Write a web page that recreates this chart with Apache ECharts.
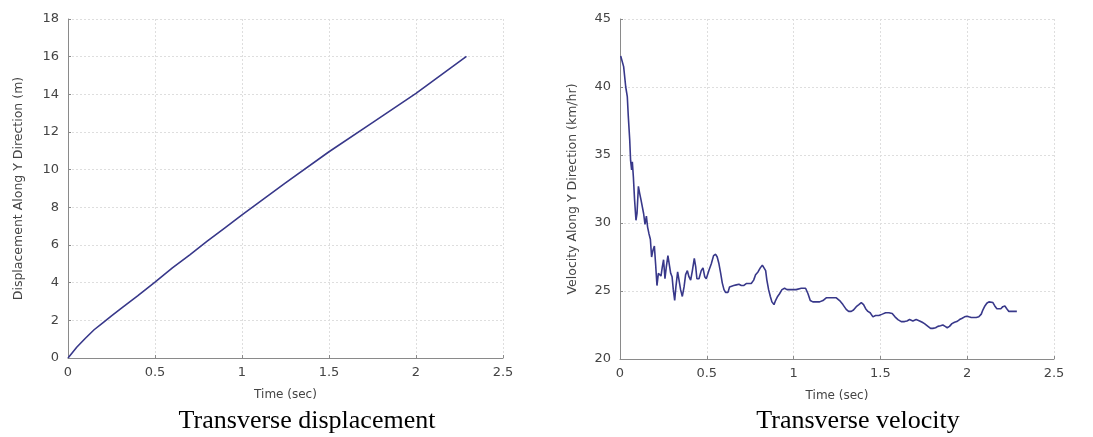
<!DOCTYPE html>
<html>
<head>
<meta charset="utf-8">
<script src="https://cdn.jsdelivr.net/npm/echarts@6/dist/echarts.min.js"></script>
<style>
html,body{margin:0;padding:0;background:#fff;}
#c{width:1093px;height:437px;}
</style>
</head>
<body>
<div id="c"></div>
<script>
// Displacement (m) vs time (sec)
const dispTime = [0, 0.02, 0.05, 0.1, 0.15, 0.2, 0.25, 0.3, 0.4, 0.5, 0.6, 0.7, 0.8, 0.9, 1.0, 1.25, 1.5, 1.75, 2.0, 2.29];
const dispValues = [0, 0.23, 0.57, 1.05, 1.5, 1.87, 2.24, 2.6, 3.3, 4.03, 4.78, 5.48, 6.2, 6.9, 7.6, 9.3, 10.95, 12.5, 14.05, 16.02];

// Velocity (km/hr) vs time (sec)
const velTime = [0.004,0.013,0.021,0.033,0.042,0.048,0.056,0.061,0.067,0.071,0.077,0.084,0.092,0.098,0.106,0.113,0.121,0.129,0.136,0.144,0.152,0.159,0.167,0.175,0.182,0.19,0.198,0.205,0.213,0.221,0.228,0.236,0.244,0.251,0.259,0.267,0.276,0.284,0.292,0.3,0.307,0.315,0.322,0.332,0.34,0.349,0.359,0.369,0.378,0.388,0.397,0.407,0.417,0.428,0.436,0.443,0.455,0.468,0.478,0.488,0.497,0.512,0.526,0.539,0.551,0.56,0.57,0.58,0.589,0.599,0.608,0.622,0.631,0.641,0.655,0.67,0.685,0.699,0.712,0.727,0.743,0.756,0.77,0.781,0.795,0.808,0.82,0.829,0.839,0.846,0.856,0.866,0.875,0.887,0.896,0.908,0.919,0.933,0.948,0.962,0.977,0.996,1.015,1.044,1.069,1.083,1.096,1.111,1.131,1.15,1.169,1.188,1.207,1.226,1.246,1.265,1.284,1.303,1.317,1.332,1.345,1.361,1.376,1.39,1.403,1.415,1.428,1.441,1.457,1.472,1.491,1.511,1.53,1.549,1.568,1.584,1.601,1.62,1.639,1.653,1.668,1.687,1.706,1.726,1.741,1.754,1.774,1.789,1.802,1.818,1.831,1.846,1.86,1.873,1.885,1.898,1.912,1.927,1.94,1.956,1.971,1.985,1.998,2.01,2.023,2.036,2.052,2.067,2.081,2.09,2.102,2.113,2.125,2.136,2.148,2.159,2.171,2.182,2.194,2.205,2.217,2.228,2.24,2.251,2.263,2.274,2.286];
const velValues = [42.28,42.2,41.5,40.0,39.3,37.8,36.1,34.6,33.9,34.5,33.4,31.7,30.2,30.7,32.7,32.2,31.7,31.6,30.7,29.9,30.5,29.7,29.2,28.8,27.5,28.0,28.3,27.0,25.4,26.3,26.2,26.1,26.8,27.3,25.9,26.8,27.6,27.6,26.3,26.05,25.1,24.3,25.3,26.4,25.8,25.1,24.6,25.3,26.2,26.5,26.05,25.8,26.5,27.4,26.8,25.9,25.9,26.5,26.7,26.05,25.9,26.5,27.0,27.6,27.7,27.5,27.0,26.3,25.6,25.1,24.9,24.9,25.3,25.4,25.4,25.45,25.5,25.4,25.4,25.55,25.55,25.55,25.8,26.2,26.4,26.7,26.9,26.8,26.5,25.8,25.1,24.6,24.2,24.0,24.3,24.6,24.8,25.1,25.2,25.1,25.1,25.1,25.1,25.2,25.2,24.8,24.3,24.2,24.2,24.2,24.3,24.5,24.5,24.5,24.5,24.3,24.0,23.65,23.5,23.5,23.6,23.85,24.0,24.15,24.0,23.7,23.5,23.4,23.1,23.2,23.2,23.3,23.4,23.4,23.35,23.1,22.9,22.75,22.75,22.8,22.9,22.8,22.9,22.8,22.7,22.6,22.4,22.25,22.25,22.3,22.4,22.45,22.5,22.4,22.3,22.4,22.6,22.7,22.75,22.9,23.0,23.1,23.15,23.1,23.05,23.05,23.05,23.1,23.3,23.6,23.9,24.1,24.2,24.3,24.15,23.9,23.7,23.8,23.7,23.85,23.9,23.7,23.5,23.55,23.5,23.55,23.5];

const captions = ['Transverse displacement', 'Transverse velocity'];

const chart = echarts.init(document.getElementById('c'), null, {renderer: 'canvas'});
const lineColor = '#38388a';
const labelStyle = {color: '#444', fontSize: 13, fontFamily: 'DejaVu Sans'};
const nameStyle = {color: '#444', fontSize: 12, fontFamily: 'DejaVu Sans'};
const axisLine = {show: true, lineStyle: {color: '#8a8a8a', width: 1}};
const splitLine = {show: true, lineStyle: {color: '#dedede', type: [2, 2], width: 1}};
const axisTick = {show: true, inside: true, length: 3, lineStyle: {color: '#8a8a8a'}};

function xAxis(gi) {
  return {
    type: 'value', gridIndex: gi, min: 0, max: 2.5, interval: 0.5,
    name: 'Time (sec)', nameLocation: 'middle', nameGap: 31, nameTextStyle: nameStyle,
    axisLine: axisLine, axisTick: axisTick, splitLine: splitLine,
    axisLabel: Object.assign({margin: 8, formatter: v => String(v)}, labelStyle)
  };
}

chart.setOption({
  animation: false,
  backgroundColor: '#ffffff',
  grid: [
    {left: 68, right: 590, top: 19, bottom: 79},
    {left: 620, right: 39, top: 19, bottom: 78}
  ],
  xAxis: [xAxis(0), xAxis(1)],
  yAxis: [
    {
      type: 'value', gridIndex: 0, min: 0, max: 18, interval: 2,
      name: 'Displacement Along Y Direction (m)', nameLocation: 'middle', nameGap: 43,
      nameTextStyle: Object.assign({}, nameStyle, {fontSize: 12.5}),
      axisLine: axisLine, axisTick: axisTick, splitLine: splitLine,
      axisLabel: Object.assign({margin: 9}, labelStyle)
    },
    {
      type: 'value', gridIndex: 1, min: 20, max: 45, interval: 5,
      name: 'Velocity Along Y Direction (km/hr)', nameLocation: 'middle', nameGap: 41,
      nameTextStyle: Object.assign({}, nameStyle, {fontSize: 12.5}),
      axisLine: axisLine, axisTick: axisTick, splitLine: splitLine,
      axisLabel: Object.assign({margin: 9}, labelStyle)
    }
  ],
  series: [
    {
      type: 'line', xAxisIndex: 0, yAxisIndex: 0, showSymbol: false,
      lineStyle: {color: lineColor, width: 1.6},
      data: dispTime.map((t, i) => [t, dispValues[i]])
    },
    {
      type: 'line', xAxisIndex: 1, yAxisIndex: 1, showSymbol: false,
      lineStyle: {color: lineColor, width: 1.6},
      data: velTime.map((t, i) => [t, velValues[i]])
    }
  ],
  graphic: [
    {type: 'text', x: 307, y: 421, style: {text: captions[0], font: '26px "Liberation Serif"', fill: '#000', align: 'center', verticalAlign: 'middle'}},
    {type: 'text', x: 858, y: 421, style: {text: captions[1], font: '26px "Liberation Serif"', fill: '#000', align: 'center', verticalAlign: 'middle'}}
  ]
});
</script>
</body>
</html>
